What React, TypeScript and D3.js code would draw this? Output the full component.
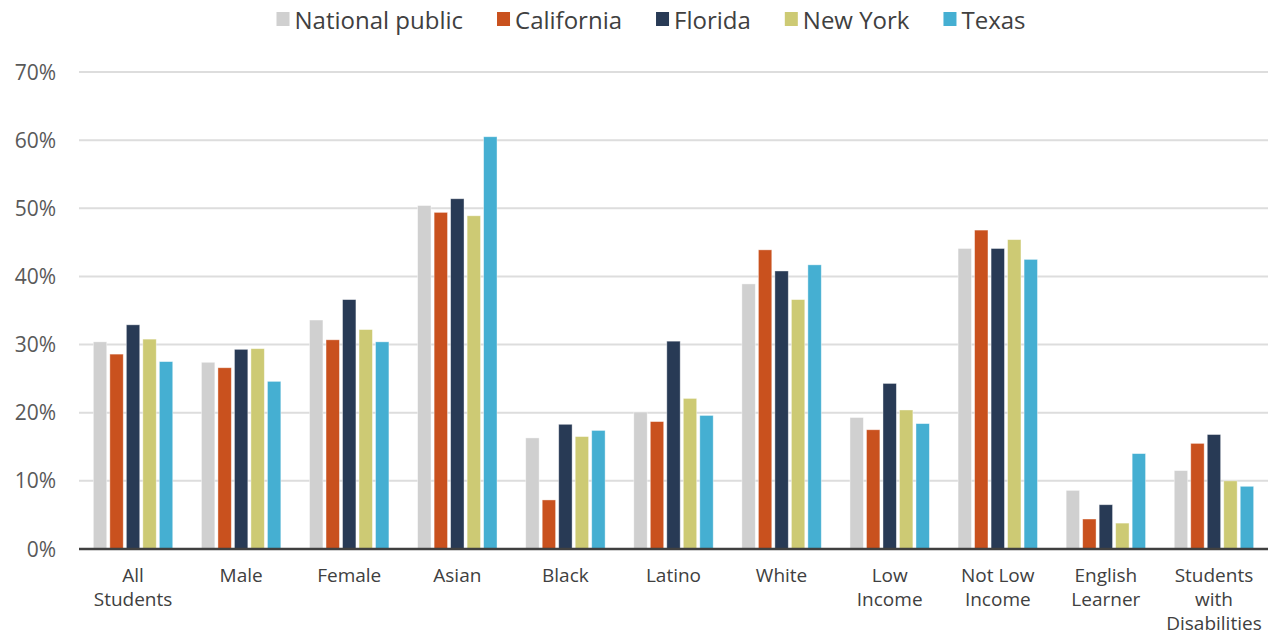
import React, { useEffect, useRef } from "react";
import * as d3 from "d3";

const categories = [
  "All Students", "Male", "Female", "Asian", "Black", "Latino", "White",
  "Low Income", "Not Low Income", "English Learner", "Students with Disabilities",
];
const categoryLines = [
  ["All", "Students"], ["Male"], ["Female"], ["Asian"], ["Black"], ["Latino"], ["White"],
  ["Low", "Income"], ["Not Low", "Income"], ["English", "Learner"], ["Students", "with", "Disabilities"],
];
const seriesNames = ["National public", "California", "Florida", "New York", "Texas"];
const seriesColors = ["#d0d0d0", "#c9511e", "#283a55", "#cdca74", "#45afd2"];

const nationalPublic = [30.4, 27.4, 33.6, 50.4, 16.3, 20.1, 38.9, 19.3, 44.1, 8.6, 11.5];
const california = [28.6, 26.6, 30.7, 49.4, 7.2, 18.7, 43.9, 17.5, 46.8, 4.4, 15.5];
const florida = [32.9, 29.3, 36.6, 51.4, 18.3, 30.5, 40.8, 24.3, 44.1, 6.5, 16.8];
const newYork = [30.8, 29.4, 32.2, 48.9, 16.5, 22.1, 36.6, 20.4, 45.4, 3.8, 10.0];
const texas = [27.5, 24.6, 30.4, 60.5, 17.4, 19.6, 41.7, 18.4, 42.5, 14.0, 9.2];

const yTicks = [0, 10, 20, 30, 40, 50, 60, 70];

const W = 1275;
const H = 637;
const FONT = "'Open Sans', Lato, sans-serif";

export default function App() {
  const ref = useRef<SVGSVGElement>(null);

  useEffect(() => {
    const svg = d3.select(ref.current);
    svg.selectAll("*").remove();
    const seriesValues = [nationalPublic, california, florida, newYork, texas];

    const margin = { left: 79, right: 7, top: 72, bottom: 88 };
    const x = d3.scaleBand<string>().domain(categories).range([margin.left, W - margin.right]).padding(0);
    const y = d3.scaleLinear().domain([0, 70]).range([549, 72]);
    const step = 16.5;
    const barW = 13.4;

    svg.append("g")
      .selectAll("line")
      .data(yTicks.filter((t) => t > 0))
      .join("line")
      .attr("x1", margin.left)
      .attr("x2", W - margin.right)
      .attr("y1", (d) => y(d))
      .attr("y2", (d) => y(d))
      .attr("stroke", "#dddddd")
      .attr("stroke-width", 2);

    svg.append("g")
      .selectAll("text")
      .data(yTicks)
      .join("text")
      .attr("x", 56)
      .attr("y", (d) => y(d))
      .attr("dy", "0.36em")
      .attr("text-anchor", "end")
      .attr("font-family", FONT)
      .attr("font-size", 21)
      .attr("fill", "#595959")
      .text((d) => `${d}%`);

    seriesValues.forEach((vals, si) => {
      svg.append("g")
        .selectAll("rect")
        .data(vals)
        .join("rect")
        .attr("x", (_, i) => x(categories[i])! + x.bandwidth() / 2 + (si - 2) * step - barW / 2)
        .attr("y", (d) => y(d))
        .attr("width", barW)
        .attr("height", (d) => y(0) - y(d))
        .attr("fill", seriesColors[si])
        .attr("stroke", "#ffffff")
        .attr("stroke-opacity", 0.5)
        .attr("stroke-width", 0.8);
    });

    svg.append("line")
      .attr("x1", margin.left)
      .attr("x2", W - margin.right)
      .attr("y1", y(0))
      .attr("y2", y(0))
      .attr("stroke", "#404040")
      .attr("stroke-width", 2.5);

    const cg = svg.append("g");
    categories.forEach((c, i) => {
      const t = cg.append("text")
        .attr("x", x(c)! + x.bandwidth() / 2)
        .attr("y", 582)
        .attr("text-anchor", "middle")
        .attr("font-family", FONT)
        .attr("font-size", 19)
        .attr("fill", "#404040");
      categoryLines[i].forEach((ln, li) => {
        t.append("tspan")
          .attr("x", x(c)! + x.bandwidth() / 2)
          .attr("dy", li === 0 ? 0 : 24)
          .text(ln);
      });
    });

    const lg = svg.append("g");
    const items: { g: any; w: number }[] = [];
    seriesNames.forEach((name, i) => {
      const g = lg.append("g");
      g.append("rect").attr("x", 0).attr("y", 12).attr("width", 13).attr("height", 14).attr("fill", seriesColors[i]);
      const t = g.append("text")
        .attr("x", 18)
        .attr("y", 20)
        .attr("dy", "0.36em")
        .attr("font-family", FONT)
        .attr("font-size", 24)
        .attr("fill", "#404040")
        .text(name);
      const tw = (t.node() as SVGTextElement).getComputedTextLength();
      items.push({ g, w: 18 + tw });
    });
    const gap = 34;
    const total = items.reduce((s, it) => s + it.w, 0) + gap * (items.length - 1);
    let cx = 651 - total / 2;
    items.forEach((it) => {
      it.g.attr("transform", `translate(${cx},0)`);
      cx += it.w + gap;
    });
  }, []);

  return (
    <svg
      ref={ref}
      width={W}
      height={H}
      style={{ position: "absolute", left: 0, top: 0, background: "#fff" }}
    />
  );
}
